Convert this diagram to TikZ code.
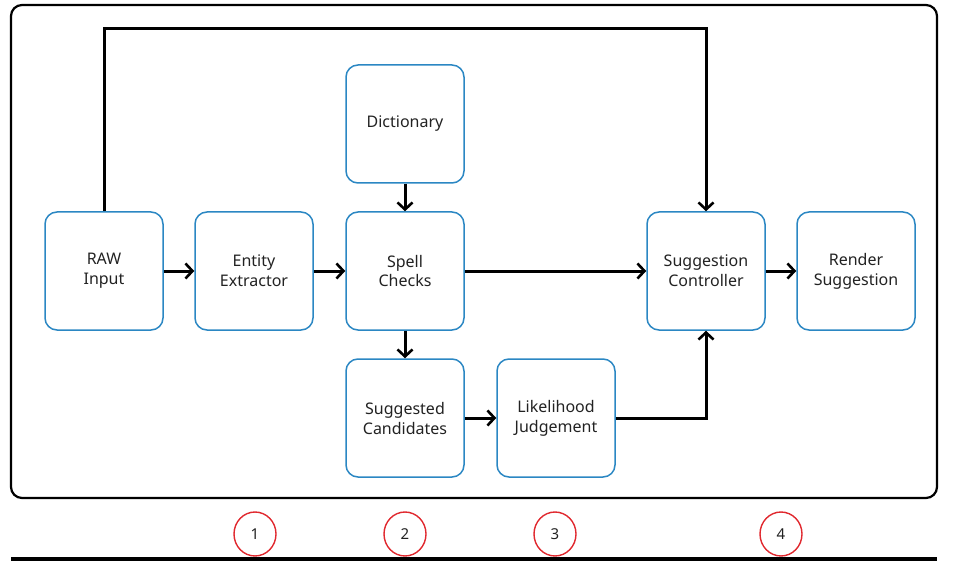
\documentclass[tikz,border=0pt]{standalone}
\usepackage{fontspec}
\setmainfont{Noto Sans}
\usetikzlibrary{arrows.meta,shapes.geometric}

\definecolor{boxblue}{HTML}{2B87C3}
\definecolor{markred}{HTML}{E0282E}
\definecolor{textgray}{HTML}{222222}

\tikzset{
    block/.style={draw=boxblue,line width=1.5pt,rounded corners=12pt,
                  minimum width=118pt,minimum height=118pt,
                  align=center,text=textgray,font=\fontsize{16pt}{20pt}\selectfont},
    flow/.style={line width=3pt,-{Straight Barb[length=7pt,width=15pt,line width=2.6pt]}},
    stepmark/.style={draw=markred,line width=1.4pt,ellipse,minimum width=42pt,
                     minimum height=44pt,text=textgray,font=\fontsize{15pt}{16pt}\selectfont}
}

\begin{document}
\begin{tikzpicture}[x=1pt,y=-1pt]
        \useasboundingbox (0,0) rectangle (954,567);
        % outer frame
        \draw[line width=2.2pt,rounded corners=11pt] (11,5) rectangle (937,498);

        % main row
        \node[block] (raw)  at (104,271) {RAW\\Input};
        \node[block] (ext)  at (254,271) {Entity\\Extractor};
        \node[block] (spell) at (405,271) {Spell\\Checks};
        \node[block] (ctrl) at (706,271) {Suggestion\\Controller};
        \node[block] (rend) at (856,271) {Render\\Suggestion};

        % above and below the spell checker
        \node[block] (dict) at (405,124) {Dictionary};
        \node[block] (cand) at (405,418) {Suggested\\Candidates};
        \node[block] (like) at (556,418) {Likelihood\\Judgement};

        % connectors
        \draw[flow] (raw) -- (ext);
        \draw[flow] (ext) -- (spell);
        \draw[flow] (dict) -- (spell);
        \draw[flow] (spell) -- (cand);
        \draw[flow] (cand) -- (like);
        \draw[flow] (spell) -- (ctrl);
        \draw[flow] (ctrl) -- (rend);
        \draw[flow] (like.east) -| (ctrl.south);
        \coordinate (topleft) at (104,29);
        \coordinate (topright) at (706,29);
        \draw[flow] (raw.north) -- (topleft) -- (topright) -- (ctrl.north);

        % numbered steps
        \node[stepmark] (s1) at (255,534) {1};
        \node[stepmark] (s2) at (405,534) {2};
        \node[stepmark] (s3) at (555,534) {3};
        \node[stepmark] (s4) at (781,534) {4};

        % bottom rule
        \coordinate (ruleleft) at (11,559);
        \coordinate (ruleright) at (937,559);
        \draw[line width=3.5pt] (ruleleft) -- (ruleright);
    \end{tikzpicture}
\end{document}
